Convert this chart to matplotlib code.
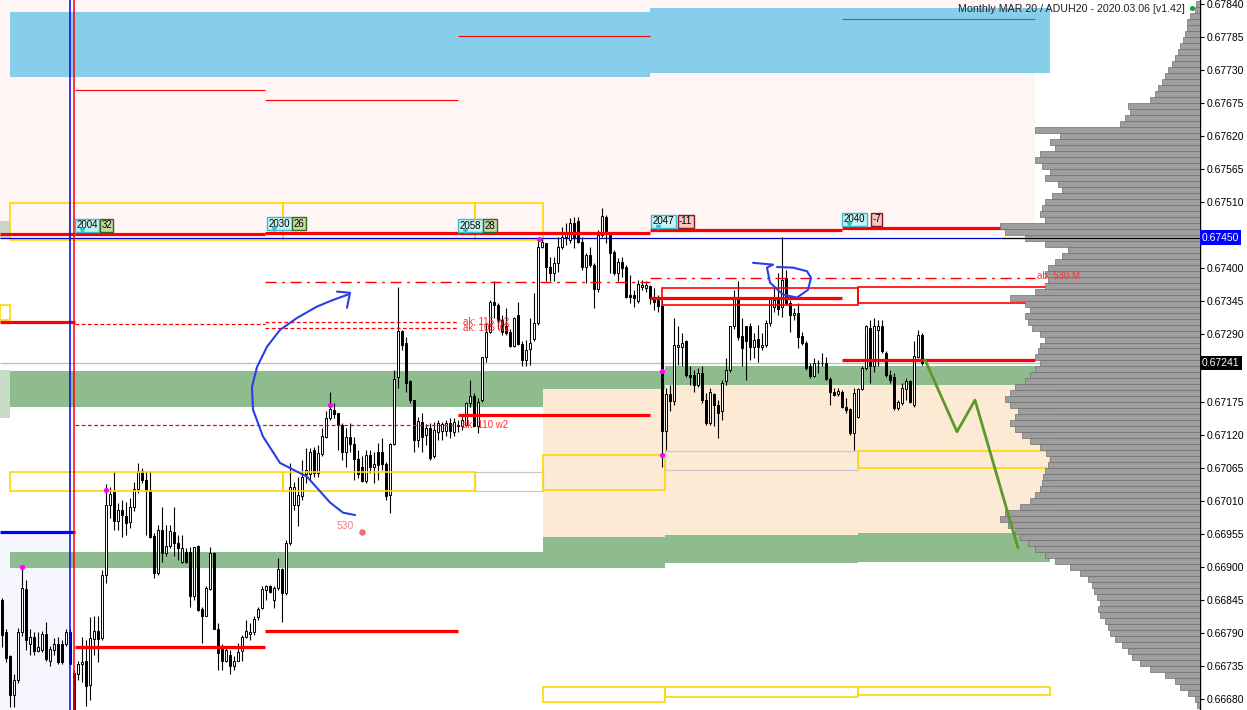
import matplotlib
matplotlib.use("Agg")
import matplotlib.pyplot as plt
from matplotlib.patches import Rectangle
from matplotlib.transforms import blended_transform_factory
import numpy as np

plt.rcParams['font.family'] = ['Liberation Sans', 'DejaVu Sans']

# ---------------- data (prices in points above 0.66000, 1 point = 0.00001) ----------------
opens = [846, 791, 751, 687, 712, 791, 864, 772, 784, 760,
         762, 789, 744, 762, 771, 772, 772, 791, 724, 722,
         739, 743, 704, 780, 793, 782, 887, 1004, 1026, 977,
         996, 985, 976, 1001, 1031, 1060, 1046, 1029, 952, 891,
         962, 924, 935, 959, 941, 909, 926, 926, 852, 935,
         830, 819, 864, 924, 796, 768, 744, 754, 735, 744,
         760, 784, 789, 791, 816, 832, 862, 869, 846, 866,
         897, 857, 941, 1004, 1004, 1019, 1056, 1056, 1096, 1058,
         1089, 1118, 1149, 1163, 1158, 1138, 1093, 1118, 1106, 1081,
         1068, 1044, 1088, 1068, 1093, 1093, 1072, 1021, 1106, 1218,
         1294, 1275, 1210, 1179, 1113, 1143, 1121, 1133, 1085, 1126,
         1127, 1127, 1141, 1126, 1138, 1135, 1138, 1174, 1185, 1136,
         1179, 1251, 1293, 1343, 1338, 1313, 1302, 1293, 1269, 1321,
         1273, 1246, 1264, 1281, 1308, 1435, 1441, 1401, 1391, 1408,
         1435, 1451, 1446, 1475, 1477, 1443, 1401, 1421, 1405, 1365,
         1455, 1485, 1458, 1426, 1391, 1410, 1401, 1355, 1355, 1344,
         1368, 1366, 1369, 1351, 1346, 1336, 1127, 1189, 1177, 1268,
         1268, 1277, 1221, 1221, 1204, 1224, 1179, 1141, 1189, 1171,
         1160, 1210, 1229, 1302, 1351, 1286, 1302, 1302, 1268, 1281,
         1268, 1271, 1308, 1334, 1349, 1334, 1383, 1341, 1321, 1324,
         1286, 1275, 1235, 1219, 1240, 1240, 1241, 1214, 1193, 1189,
         1193, 1168, 1164, 1124, 1151, 1198, 1233, 1300, 1235, 1296,
         1302, 1258, 1221, 1218, 1166, 1174, 1198, 1211, 1171, 1251,
         1288]
highs = [849, 796, 754, 721, 799, 901, 879, 796, 791, 791,
         793, 809, 768, 782, 784, 779, 796, 796, 729, 743,
         784, 779, 816, 818, 818, 896, 1038, 1033, 1060, 1007,
         1012, 1009, 1016, 1043, 1074, 1066, 1060, 1060, 957, 971,
         1001, 971, 971, 1001, 954, 954, 932, 934, 934, 937,
         834, 868, 934, 926, 807, 771, 768, 762, 751, 774,
         787, 812, 807, 818, 834, 868, 871, 871, 868, 916,
         899, 946, 1074, 1043, 1051, 1079, 1099, 1099, 1101, 1104,
         1133, 1160, 1193, 1174, 1158, 1141, 1133, 1141, 1118, 1096,
         1085, 1096, 1096, 1093, 1108, 1116, 1076, 1108, 1229, 1368,
         1296, 1285, 1213, 1179, 1151, 1158, 1139, 1141, 1143, 1146,
         1143, 1146, 1149, 1149, 1146, 1152, 1176, 1213, 1191, 1183,
         1251, 1308, 1346, 1377, 1341, 1321, 1333, 1298, 1318, 1343,
         1277, 1280, 1316, 1358, 1446, 1448, 1441, 1418, 1418, 1451,
         1468, 1475, 1483, 1485, 1485, 1451, 1425, 1435, 1408, 1463,
         1500, 1488, 1460, 1430, 1416, 1418, 1405, 1388, 1363, 1380,
         1380, 1377, 1371, 1366, 1355, 1346, 1199, 1204, 1316, 1302,
         1291, 1280, 1235, 1229, 1233, 1235, 1191, 1199, 1191, 1179,
         1213, 1249, 1302, 1363, 1377, 1316, 1302, 1308, 1291, 1305,
         1291, 1313, 1351, 1368, 1391, 1451, 1396, 1346, 1333, 1341,
         1293, 1277, 1241, 1249, 1246, 1258, 1251, 1218, 1199, 1199,
         1196, 1183, 1166, 1199, 1199, 1235, 1305, 1313, 1316, 1313,
         1313, 1260, 1229, 1224, 1179, 1208, 1216, 1213, 1277, 1296,
         1291]
lows = [766, 741, 666, 666, 707, 785, 762, 754, 754, 759,
        759, 743, 735, 754, 738, 739, 769, 738, 654, 712,
        709, 668, 679, 754, 741, 779, 874, 982, 962, 962,
        951, 954, 966, 993, 1024, 1041, 954, 949, 882, 887,
        909, 918, 932, 918, 912, 907, 907, 834, 846, 827,
        774, 818, 862, 796, 729, 729, 741, 721, 729, 743,
        743, 782, 779, 787, 812, 830, 846, 857, 832, 862,
        809, 854, 937, 996, 968, 1012, 1041, 1046, 1051, 1051,
        1085, 1116, 1146, 1149, 1096, 1079, 1068, 1093, 1046, 1049,
        1043, 1041, 1058, 1041, 1046, 1063, 1012, 991, 1104, 1199,
        1263, 1193, 1174, 1093, 1101, 1093, 1104, 1079, 1083, 1113,
        1113, 1119, 1116, 1119, 1126, 1129, 1135, 1168, 1135, 1124,
        1176, 1243, 1291, 1316, 1298, 1288, 1288, 1268, 1268, 1271,
        1235, 1236, 1238, 1277, 1305, 1433, 1377, 1377, 1377, 1393,
        1431, 1438, 1441, 1433, 1441, 1396, 1375, 1401, 1333, 1360,
        1451, 1441, 1391, 1388, 1377, 1385, 1349, 1341, 1334, 1341,
        1363, 1360, 1339, 1330, 1326, 1068, 1096, 1160, 1171, 1238,
        1235, 1218, 1204, 1193, 1201, 1174, 1138, 1138, 1135, 1116,
        1146, 1204, 1226, 1298, 1280, 1235, 1213, 1246, 1249, 1243,
        1263, 1268, 1302, 1326, 1321, 1318, 1338, 1293, 1313, 1266,
        1271, 1229, 1216, 1218, 1224, 1235, 1213, 1171, 1185, 1185,
        1166, 1158, 1121, 1096, 1149, 1196, 1229, 1208, 1226, 1235,
        1258, 1218, 1208, 1163, 1163, 1171, 1179, 1174, 1168, 1249,
        1238]
closes = [787, 749, 687, 712, 791, 866, 779, 784, 760, 766,
          789, 746, 764, 772, 741, 741, 791, 739, 659, 739,
          741, 702, 782, 794, 780, 887, 1004, 1022, 977, 996,
          987, 974, 1001, 1031, 1060, 1046, 1029, 951, 891, 962,
          924, 935, 960, 941, 932, 932, 909, 852, 934, 829,
          819, 866, 924, 797, 757, 744, 762, 735, 744, 759,
          784, 793, 791, 814, 830, 864, 869, 859, 866, 897,
          857, 941, 1033, 1033, 1021, 1051, 1063, 1093, 1058, 1091,
          1119, 1149, 1164, 1156, 1138, 1093, 1118, 1106, 1081, 1056,
          1044, 1088, 1068, 1072, 1071, 1072, 1018, 1106, 1214, 1294,
          1271, 1208, 1179, 1113, 1144, 1118, 1133, 1083, 1129, 1141,
          1139, 1141, 1127, 1143, 1135, 1146, 1174, 1185, 1136, 1176,
          1251, 1293, 1343, 1338, 1313, 1293, 1291, 1269, 1316, 1273,
          1246, 1263, 1275, 1308, 1435, 1443, 1401, 1391, 1408, 1435,
          1451, 1458, 1475, 1451, 1443, 1401, 1421, 1405, 1365, 1455,
          1486, 1458, 1425, 1391, 1410, 1400, 1351, 1351, 1349, 1373,
          1371, 1371, 1349, 1343, 1336, 1127, 1189, 1177, 1271, 1271,
          1275, 1221, 1218, 1204, 1224, 1179, 1141, 1193, 1171, 1158,
          1208, 1229, 1302, 1351, 1285, 1266, 1278, 1268, 1280, 1268,
          1271, 1308, 1349, 1346, 1331, 1380, 1341, 1321, 1324, 1285,
          1275, 1233, 1219, 1241, 1241, 1241, 1214, 1193, 1188, 1194,
          1168, 1163, 1124, 1191, 1198, 1233, 1302, 1235, 1302, 1302,
          1260, 1221, 1213, 1166, 1176, 1199, 1210, 1176, 1253, 1288,
          1241]

# volume profile (top level 0.67840, one level every 0.00010 downward)
profile_top = 0.67840
profile_step = 0.00010
profile_volume = [4, 5, 10, 13, 13, 15, 17, 20, 22, 25,
                  28, 32, 35, 38, 42, 45, 50, 72, 70, 75,
                  80, 165, 140, 150, 145, 160, 165, 158, 150, 155,
                  142, 138, 148, 155, 158, 160, 155, 200, 195, 175,
                  155, 132, 138, 145, 152, 155, 152, 155, 165, 190,
                  175, 170, 175, 172, 168, 160, 155, 160, 162, 165,
                  160, 165, 170, 175, 185, 190, 195, 190, 182, 185,
                  190, 185, 178, 170, 160, 154, 150, 152, 155, 157,
                  158, 160, 165, 170, 180, 195, 200, 192, 185, 180,
                  172, 165, 155, 145, 130, 120, 112, 108, 106, 103,
                  100, 102, 100, 95, 92, 90, 85, 78, 72, 68,
                  60, 50, 35, 25, 20, 12, 5, 3]

y_ticks = [0.66680, 0.66735, 0.66790, 0.66845, 0.66900, 0.66955, 0.67010,
           0.67065, 0.67120, 0.67175, 0.67290, 0.67345, 0.67400,
           0.67510, 0.67565, 0.67620, 0.67675, 0.67730, 0.67785, 0.67840]
bid_price = 0.67450
last_price = 0.67241
title = "Monthly MAR 20 / ADUH20 - 2020.03.06 [v1.42]"

# session labels: bar index, price, text, score
label_bars = [21.25, 69.4, 117.1, 165.4, 213.1]
label_prices = [0.67471, 0.67473, 0.67470, 0.67477, 0.67481]
label_texts = ["2004", "2030", "2058", "2047", "2040"]
label_scores = ["32", "26", "28", "-11", "-7"]

# hand-drawn annotations (bar index, price)
arc_x = [88.25, 85.25, 82, 76.25, 69.5, 65.25, 62.75, 62.5, 63.75, 66.25, 69.5, 73.75, 78.75, 82.75, 86.5]
arc_p = [0.66987, 0.66991, 0.67008, 0.67051, 0.67074, 0.67118, 0.67163, 0.67201,
         0.67234, 0.67268, 0.67296, 0.67316, 0.67335, 0.67346, 0.67355]
arrow_x = [83.75, 87, 86.25]
arrow_p = [0.67360, 0.67358, 0.67333]
loop_x = [187.75, 192.75, 191.25, 192, 195.25, 198.75, 201.5, 202.25, 201.25, 197.75, 193.75]
loop_p = [0.67408, 0.67405, 0.67400, 0.67375, 0.67355, 0.67350, 0.67363, 0.67383, 0.67394, 0.67400, 0.67401]
green_x = [230.75, 238.75, 243.25, 254]
green_p = [0.67246, 0.67126, 0.67179, 0.66932]

magenta_x = [5, 26, 82, 134.25, 165, 165]
magenta_p = [0.66901, 0.67029, 0.67171, 0.67448, 0.67228, 0.67088]

# ---------------- figure ----------------
W, H = 1247, 710
fig = plt.figure(figsize=(W / 100, H / 100), dpi=100)
ax = fig.add_axes([0, 0, 1200 / W, 1])
ax.set_xlim(-0.5, 299.5)
ax.set_ylim(0.666616, 0.678467)


def P(v):
    return 0.66 + np.asarray(v, dtype=float) * 1e-5


def rect(x0, x1, p0, p1, **kw):
    ax.add_patch(Rectangle((x0, min(p0, p1)), x1 - x0, abs(p1 - p0), **kw))


def hline(x0, x1, p, **kw):
    ax.plot([x0, x1], [p, p], solid_capstyle='butt', **kw)


RED = '#FF0000'
GOLD = '#FFD700'
GREEN = '#8FBC8F'
PEACH = '#FCEAD5'
SKY = '#87CEEB'

# backgrounds
rect(-0.5, 258.25, 0.67455, 0.6790, fc='#FFF5F5', ec='none', zorder=0)
rect(-0.5, 17, 0.6660, 0.66959, fc='#F6F6FF', ec='none', zorder=0)
rect(2, 162, 0.67718, 0.67827, fc=SKY, ec='none', zorder=1)
rect(162, 262, 0.67725, 0.67834, fc=SKY, ec='none', zorder=1)
rect(-0.5, 2, 0.67448, 0.67478, fc='#C9D6C9', ec='none', zorder=1)
rect(-0.5, 2, 0.67149, 0.67229, fc='#C9DBC9', ec='none', zorder=1)
rect(-0.5, 2, 0.67313, 0.67338, fill=False, ec=GOLD, lw=1.2, zorder=2)

# zones
rect(2, 165.75, 0.67168, 0.67228, fc=GREEN, ec='none', zorder=1)
rect(165.75, 262, 0.67204, 0.67236, fc=GREEN, ec='none', zorder=1)
rect(135.25, 165.75, 0.66951, 0.67198, fc=PEACH, ec='none', zorder=1.2)
rect(165.75, 262, 0.66954, 0.67204, fc=PEACH, ec='none', zorder=1.2)
rect(2, 135.25, 0.66899, 0.66926, fc=GREEN, ec='none', zorder=1.3)
rect(135.25, 165.75, 0.66899, 0.66951, fc=GREEN, ec='none', zorder=1.3)
rect(165.75, 214, 0.66907, 0.66954, fc=GREEN, ec='none', zorder=1.3)
rect(214, 262, 0.66909, 0.66957, fc=GREEN, ec='none', zorder=1.3)

# thin lines in the upper area
hline(18.25, 65.75, 0.67697, color=RED, lw=0.8, zorder=2)
hline(65.75, 114, 0.67680, color=RED, lw=0.8, zorder=2)
hline(114, 162, 0.67787, color=RED, lw=0.8, zorder=2)
hline(210, 258.25, 0.67815, color='#B04848', lw=0.8, zorder=2)

# yellow boxes
for a, b in [(2, 17), (17, 70.25), (70.25, 118.25), (118.25, 135.25)]:
    rect(a, b, 0.67446, 0.67508, fill=False, ec=GOLD, lw=1.2, zorder=2)
for a, b in [(2, 17), (17, 70.25), (70.25, 118.25)]:
    rect(a, b, 0.67027, 0.67059, fill=False, ec=GOLD, lw=1.2, zorder=6)
rect(118.25, 135.25, 0.67027, 0.67059, fill=False, ec='#C8C8C8', lw=0.9, zorder=2)
rect(135.25, 165.75, 0.67029, 0.67088, fill=False, ec=GOLD, lw=1.2, zorder=2)
rect(165.75, 214, 0.67063, 0.67094, fill=False, ec='#C8C8C8', lw=0.9, zorder=2)
rect(214, 262, 0.67066, 0.67094, fill=False, ec=GOLD, lw=1.2, zorder=2)
rect(135.25, 165.75, 0.66675, 0.6670, fill=False, ec=GOLD, lw=1.2, zorder=2)
rect(165.75, 214, 0.66684, 0.6670, fill=False, ec=GOLD, lw=1.2, zorder=2)
rect(214, 262, 0.66687, 0.6670, fill=False, ec=GOLD, lw=1.2, zorder=2)

# full-width lines
hline(-0.5, 299.5, bid_price, color='#0000CD', lw=0.9, zorder=3)
hline(-0.5, 299.5, last_price, color='#BDBDBD', lw=0.9, zorder=3)

# candles
idx = np.arange(len(opens))
o, h, l, c = P(opens), P(highs), P(lows), P(closes)
top = np.maximum.reduce([h, o, c])
bot = np.minimum.reduce([l, o, c])
ax.vlines(idx, bot, top, color='black', lw=0.8, zorder=4)
up = c >= o
body = np.where(np.abs(c - o) < 0.3e-5, 0.3e-5, c - o)
ax.bar(idx, body, bottom=o, width=0.6, color=np.where(up, 'white', 'black'),
       edgecolor='black', linewidth=0.7, zorder=5)

# red thick levels
for a, b, p in [(-0.5, 18.25, 0.67456), (18.25, 65.75, 0.67456), (65.75, 114, 0.67458),
                (114, 162, 0.67458), (162, 210, 0.67463), (210, 258.25, 0.67466),
                (-0.5, 18.25, 0.67310), (18.25, 65.75, 0.66767), (65.75, 114, 0.66794),
                (114, 162, 0.67154), (162, 210, 0.67350), (210, 258.25, 0.67246)]:
    hline(a, b, p, color=RED, lw=2.3, zorder=6)
hline(-0.5, 18.25, 0.66959, color='#0000FF', lw=2.3, zorder=6)

# dashed levels
for a, b, p in [(18.25, 65.75, 0.67306), (65.75, 114, 0.67310), (65.75, 114, 0.67300),
                (18.25, 114, 0.67138)]:
    ax.plot([a, b], [p, p], color=RED, lw=0.9, dashes=(3, 2), zorder=6)
for a, b, p in [(65.75, 162, 0.67376), (162, 258.25, 0.67383)]:
    ax.plot([a, b], [p, p], color=RED, lw=1.0, dashes=(8, 4, 2, 4), zorder=6)

# red rectangles
rect(165, 214, 0.67338, 0.67366, fill=False, ec=RED, lw=1.2, zorder=6)
rect(214, 262, 0.67341, 0.67368, fill=False, ec=RED, lw=1.2, zorder=6)

# vertical session lines
ax.axvline(17, color='#0000FF', lw=1.1, zorder=6)
ax.axvline(18, color=RED, lw=1.1, zorder=6)

# volume profile
vol = np.asarray(profile_volume, dtype=float) / 4.0
levels = profile_top - np.arange(len(profile_volume)) * profile_step
ax.barh(levels, vol, left=299.5 - vol, height=profile_step, color='#9E9E9E',
        edgecolor='#707070', linewidth=0.5, zorder=7)
hline(250, 299.5, bid_price, color='#000000', lw=0.8, zorder=7.5)

# magenta dots
ax.scatter(magenta_x, magenta_p, s=14, color='#FF00FF', zorder=8, linewidths=0)

# text labels
for x, p, t, s in zip(label_bars, label_prices, label_texts, label_scores):
    ax.text(x, p, t, fontsize=7, ha='center', va='center', zorder=9,
            bbox=dict(boxstyle='square,pad=0.15', fc='#C8F2F2', ec='#30C0D0', lw=1))
    neg = s.startswith('-')
    ax.text(x + 4.9 + (0.6 if neg else 0), p, s, fontsize=7, ha='center', va='center', zorder=9,
            bbox=dict(boxstyle='square,pad=0.15', fc='#F5C6C6' if neg else '#C4D9A6',
                      ec='#8B1A1A' if neg else '#2E6B1E', lw=1))
    ax.plot([x - 1.3], [p - 0.00009], marker='v', ms=3, color='#30C0D0', zorder=9)

ax.text(115.25, 0.67310, "ak: 115 w2", color='#FF3030', fontsize=7, va='center', zorder=9)
ax.text(115.25, 0.67300, "ak: 105 w2", color='#FF3030', fontsize=7, va='center', zorder=9)
ax.text(115.0, 0.67138, "ak: 110 w2", color='#FF3030', fontsize=7, va='center', zorder=9)
ax.text(258.75, 0.67386, "ab: 530 M", color='#FF3030', fontsize=7, va='center', zorder=9)
ax.text(85.75, 0.66969, "530", color='#F08080', fontsize=7.5, ha='center', va='center', zorder=9)
ax.scatter([90], [0.66959], s=22, color='#F07070', zorder=9, linewidths=0)

# hand drawings
ax.plot(arc_x, arc_p, color='#2A3EE8', lw=1.5, zorder=9, solid_capstyle='round')
ax.plot(arrow_x, arrow_p, color='#2A3EE8', lw=1.5, zorder=9, solid_capstyle='round')
ax.plot(loop_x, loop_p, color='#2A3EE8', lw=1.5, zorder=9, solid_capstyle='round')
ax.plot(green_x, green_p, color='#5B9A2A', lw=2.0, zorder=9, solid_capstyle='round')

# axis styling
for s in ['top', 'left', 'bottom']:
    ax.spines[s].set_visible(False)
ax.spines['right'].set_linewidth(1.0)
ax.set_xticks([])
ax.yaxis.tick_right()
ax.set_yticks(y_ticks)
ax.set_yticklabels([f"{t:.5f}" for t in y_ticks])
ax.tick_params(axis='y', labelsize=7.5, length=3, width=0.8, pad=2, colors='black')

tr = blended_transform_factory(ax.transAxes, ax.transData)
ax.text(1.0015, bid_price, f"{bid_price:.5f}", transform=tr, fontsize=7.5, color='white',
        ha='left', va='center', clip_on=False, zorder=10,
        bbox=dict(boxstyle='square,pad=0.22', fc='#0000FF', ec='none'))
ax.text(1.0015, last_price, f"{last_price:.5f}", transform=tr, fontsize=7.5, color='white',
        ha='left', va='center', clip_on=False, zorder=10,
        bbox=dict(boxstyle='square,pad=0.22', fc='#000000', ec='none'))

fig.text(1185 / W, 1 - 9 / H, title, fontsize=7.7, ha='right', va='center', color='#202020')
ax.scatter([1192 / 1200], [1 - 8 / H], s=14, color='#1E9E3E', transform=ax.transAxes,
           clip_on=False, zorder=10, linewidths=0)

fig.savefig("out.png", dpi=100)
